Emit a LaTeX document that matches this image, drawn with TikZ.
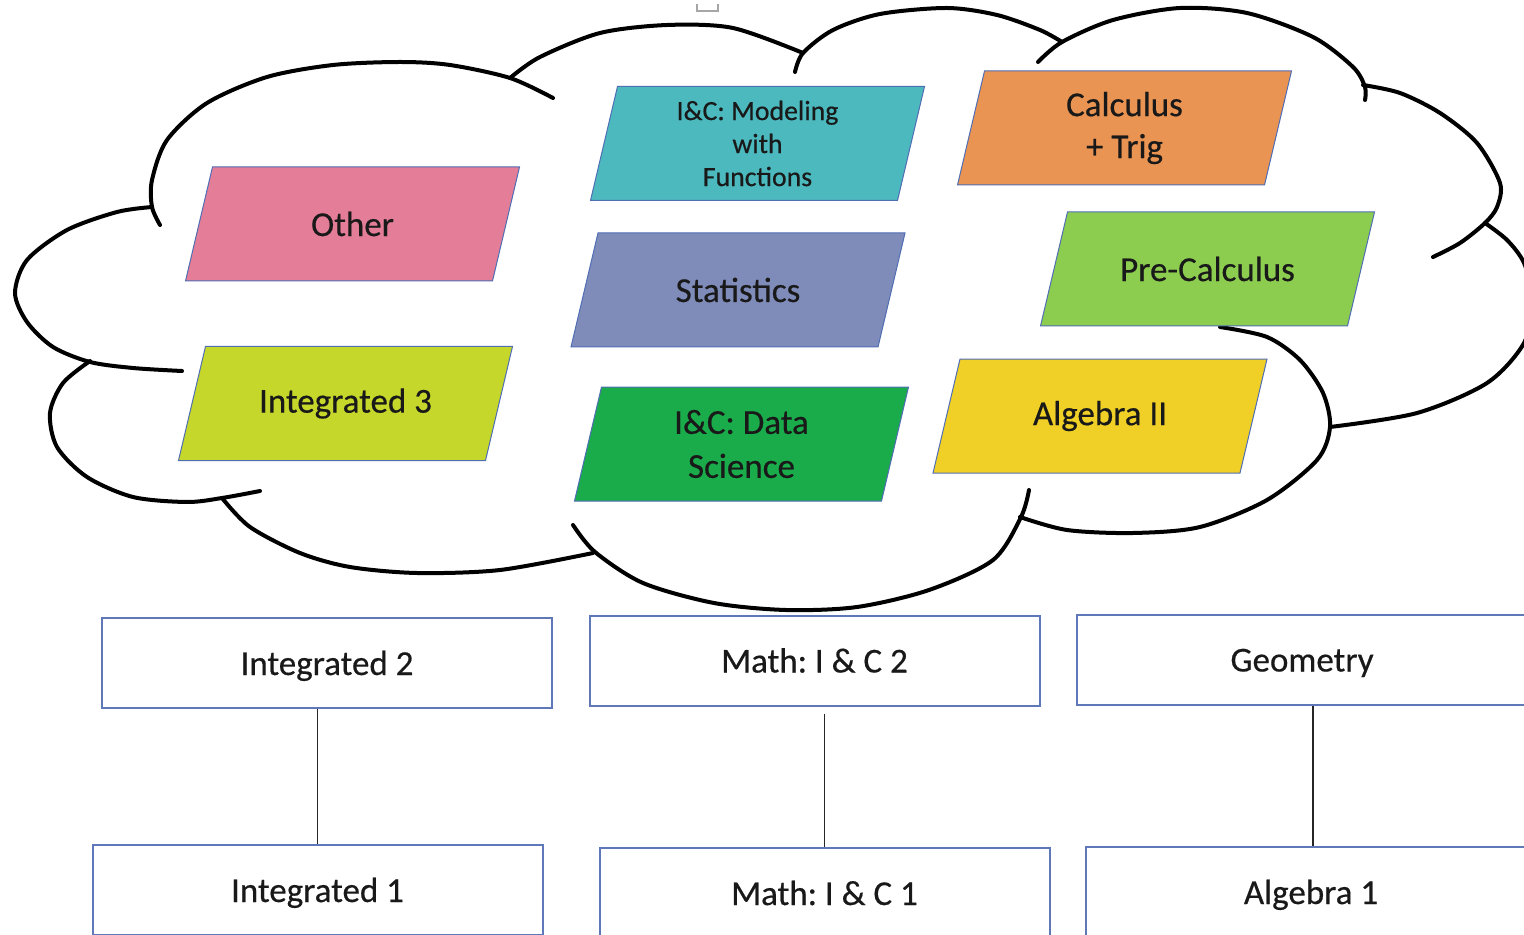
\documentclass[tikz,border=0pt]{standalone}
\usepackage{fontspec}
\setmainfont{Carlito}[BoldFont=Carlito, BoldFeatures={FakeBold=0.45}]
\definecolor{cpink}{RGB}{228,125,152}
\definecolor{cteal}{RGB}{75,185,190}
\definecolor{corange}{RGB}{233,148,82}
\definecolor{cslate}{RGB}{127,140,186}
\definecolor{clime}{RGB}{140,205,80}
\definecolor{colive}{RGB}{197,215,42}
\definecolor{cgreen}{RGB}{26,171,75}
\definecolor{cyellow}{RGB}{240,208,38}
\definecolor{pgblue}{RGB}{80,110,180}
\definecolor{boxblue}{RGB}{95,120,185}
% name, cx, cy, fill, text, node options
\newcommand{\pgram}[6]{%
  \filldraw[fill=#4, draw=pgblue, line width=0.5pt]
    (#2-167,#3+57) -- (#2+140,#3+57) -- (#2+167,#3-57) -- (#2-140,#3-57) -- cycle;
  \node[ptext,#6] (#1) at (#2,#3) {#5};
}
\frenchspacing
\begin{document}
\begin{tikzpicture}[x=0.5pt,y=-0.5pt,
  cloudline/.style={line width=2pt, line cap=round, draw=black},
  ptext/.style={font=\fontsize{17.5}{21}\selectfont\bfseries, align=center, text=black!90, inner sep=0pt},
  lvlbox/.style={draw=boxblue, line width=1pt, fill=white, minimum width=225pt,
                 minimum height=45pt, inner sep=0pt, text=black!90,
                 text height=13pt, text depth=1pt,
                 font=\fontsize{17.5}{21}\selectfont\bfseries},
  link/.style={line width=0.8pt, draw=black!85}]
\clip (0,0) rectangle (1524,935);
\fill[white] (0,0) rectangle (1524,935);

% tiny mark at the top
\draw[black!35, line width=0.6pt] (697,4) -- (697,11) -- (718,11) -- (718,4);

% cloud lobes
\draw[cloudline] plot[smooth] coordinates {(160,225) (152,207) (152,180) (167,140) (207,103) (267,77) (333,65) (400,62) (450,65) (510,78) (553,98)};
\draw[cloudline] plot[smooth] coordinates {(152,207) (117,212) (67,230) (27,260) (15,293) (27,322) (53,347) (90,362) (133,368) (182,371)};
\draw[cloudline] plot[smooth] coordinates {(90,361) (63,383) (50,413) (57,447) (87,477) (133,497) (187,502) (222,498) (260,491)};
\draw[cloudline] plot[smooth] coordinates {(222,498) (250,527) (300,553) (350,567) (417,573) (500,570) (593,553)};
\draw[cloudline] plot[smooth] coordinates {(573,525) (595,552) (643,583) (714,603) (786,610) (857,607) (929,590) (993,560) (1021,517) (1029,490)};
\draw[cloudline] plot[smooth] coordinates {(1020,517) (1067,530) (1133,533) (1200,527) (1267,500) (1317,460) (1330,427) (1323,393) (1300,360) (1267,337) (1220,327)};
\draw[cloudline] plot[smooth] coordinates {(1485,223) (1507,240) (1524,263) (1533,300) (1524,343) (1487,383) (1417,413) (1330,427)};
\draw[cloudline] plot[smooth] coordinates {(1363,85) (1400,93) (1440,113) (1477,143) (1500,183) (1497,207) (1485,223) (1460,243) (1433,257)};
\draw[cloudline] plot[smooth] coordinates {(1038,62) (1062,42) (1113,20) (1180,8) (1247,13) (1313,37) (1353,67) (1365,87) (1365,100)};
\draw[cloudline] plot[smooth] coordinates {(795,72) (803,53) (833,30) (880,14) (947,8) (997,15) (1040,30) (1062,42)};
\draw[cloudline] plot[smooth] coordinates {(510,78) (540,57) (600,33) (667,25) (733,28) (803,53)};

% parallelograms
\pgram{other}{352.5}{224}{cpink}{Other}{}
\pgram{model}{757.5}{143.5}{cteal}{I\&C: Modeling\\with\\Functions}{font=\fontsize{13.9}{16.5}\selectfont\bfseries}
\pgram{calc}{1124.5}{128}{corange}{Calculus\\+ Trig}{font=\fontsize{17.5}{21}\selectfont\bfseries}
\pgram{stats}{738}{290}{cslate}{Statistics}{}
\pgram{precalc}{1207.5}{269}{clime}{Pre-Calculus}{}
\pgram{int3}{345.5}{403.5}{colive}{Integrated 3}{}
\pgram{datasci}{741.5}{444}{cgreen}{I\&C: Data\\Science}{font=\fontsize{17.5}{22}\selectfont\bfseries}
\pgram{alg2}{1100}{416}{cyellow}{Algebra II}{}

% level boxes
\node[lvlbox] (int2) at (327,663) {Integrated 2};
\node[lvlbox] (mic2) at (814.5,660.5) {Math: I \& C 2};
\node[lvlbox] (geo) at (1302,659.5) {Geometry};
\node[lvlbox] (int1) at (317.5,890) {Integrated 1};
\node[lvlbox] (mic1) at (824.5,893) {Math: I \& C 1};
\node[lvlbox] (alg1) at (1311,892) {Algebra 1};

% connectors
\draw[link] (int1.north |- int2.south) -- (int1.north);
\draw[link, shorten <=3.5pt] (mic1.north |- mic2.south) -- (mic1.north);
\draw[link] ([xshift=1pt]alg1.north |- geo.south) -- ([xshift=1pt]alg1.north);
\end{tikzpicture}
\end{document}
